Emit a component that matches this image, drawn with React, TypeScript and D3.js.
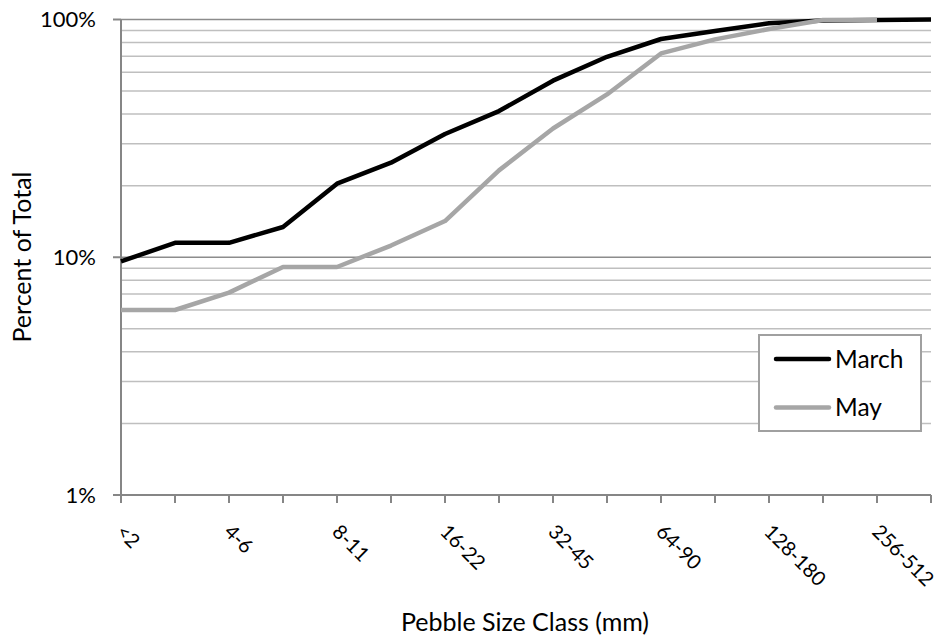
import React from 'react';
import * as d3 from 'd3';

// pebble size classes, labels shown on every other tick
const categories = [
  '<2', '2-4', '4-6', '6-8', '8-11', '11-16', '16-22', '22-32',
  '32-45', '45-64', '64-90', '90-128', '128-180', '180-256', '256-512', '512-1024'
];
const marchValues = [9.6, 11.5, 11.5, 13.4, 20.4, 25.0, 33.0, 41.2, 55.3, 69.7, 82.8, 89.5, 96.5, 99.0, 99.6, 100];
const mayValues: (number | null)[] = [6.0, 6.0, 7.1, 9.1, 9.1, 11.2, 14.2, 23.2, 34.8, 48.4, 72.0, 82.5, 91.2, 99.5, 99.8, null];
const majorTicks = [1, 10, 100];
const minorTicks = [2, 3, 4, 5, 6, 7, 8, 9, 20, 30, 40, 50, 60, 70, 80, 90];

const W = 942;
const H = 637;
const FONT = 'Lato, "Open Sans", sans-serif';

const App: React.FC = () => {
  const x = d3.scalePoint<string>().domain(categories).range([121, 931]);
  const y = d3.scaleLog().domain([1, 100]).range([495, 19.5]);

  const line = d3.line<number | null>()
    .defined(d => d != null)
    .x((_, i) => x(categories[i]) as number)
    .y(d => y(d as number));

  const series = [
    { name: 'March', values: marchValues, color: '#000000' },
    { name: 'May', values: mayValues, color: '#a6a6a6' }
  ];

  const [x0, x1] = x.range();
  const [yBottom, yTop] = y.range();

  return (
    <svg width={W} height={H} style={{ position: 'absolute', left: 0, top: 0, background: '#fff' }} fontFamily={FONT}>
      {/* gridlines */}
      {minorTicks.map(t => (
        <line key={'m' + t} x1={x0} x2={x1} y1={y(t)} y2={y(t)} stroke="#bfbfbf" strokeWidth={1.5} />
      ))}
      {majorTicks.filter(t => t > 1).map(t => (
        <line key={'M' + t} x1={x0} x2={x1} y1={y(t)} y2={y(t)} stroke="#8c8c8c" strokeWidth={1.5} />
      ))}

      {/* y axis */}
      <line x1={x0} x2={x0} y1={yTop} y2={yBottom} stroke="#868686" strokeWidth={2} />
      {majorTicks.map(t => (
        <g key={'yt' + t}>
          <line x1={x0 - 8} x2={x0} y1={y(t)} y2={y(t)} stroke="#868686" strokeWidth={2} />
          <text x={96} y={y(t)} dy="0.36em" textAnchor="end" fontSize={22} fill="#000">
            {t + '%'}
          </text>
        </g>
      ))}

      {/* x axis */}
      <line x1={x0 - 8} x2={x1} y1={yBottom} y2={yBottom} stroke="#868686" strokeWidth={2} />
      {categories.map((c, i) => (
        <g key={'xt' + c}>
          <line x1={x(c)} x2={x(c)} y1={yBottom} y2={yBottom + 8} stroke="#868686" strokeWidth={2} />
          {i % 2 === 0 && (
            <text
              transform={`translate(${(x(c) as number) - 6},533) rotate(45)`}
              fontSize={20}
              fill="#000"
            >
              {c}
            </text>
          )}
        </g>
      ))}

      {/* series */}
      {series.map(s => (
        <path
          key={s.name}
          d={line(s.values) || ''}
          fill="none"
          stroke={s.color}
          strokeWidth={4.5}
          strokeLinejoin="round"
        />
      ))}

      {/* axis titles */}
      <text x={525} y={631} textAnchor="middle" fontSize={25} fill="#000">
        Pebble Size Class (mm)
      </text>
      <text transform="translate(22,257) rotate(-90)" dy="0.35em" textAnchor="middle" fontSize={25} fill="#000">
        Percent of Total
      </text>

      {/* legend */}
      <rect x={759} y={335} width={162} height={96} fill="#fff" stroke="#a0a0a0" strokeWidth={2} />
      {series.map((s, i) => (
        <g key={'lg' + s.name} transform={`translate(776,${359 + i * 48.5})`}>
          <line x1={0} x2={53} y1={0} y2={0} stroke={s.color} strokeWidth={4.5} strokeLinecap="round" />
          <text x={59} y={8.5} fontSize={24.5} fill="#000">{s.name}</text>
        </g>
      ))}
    </svg>
  );
};

export default App;
